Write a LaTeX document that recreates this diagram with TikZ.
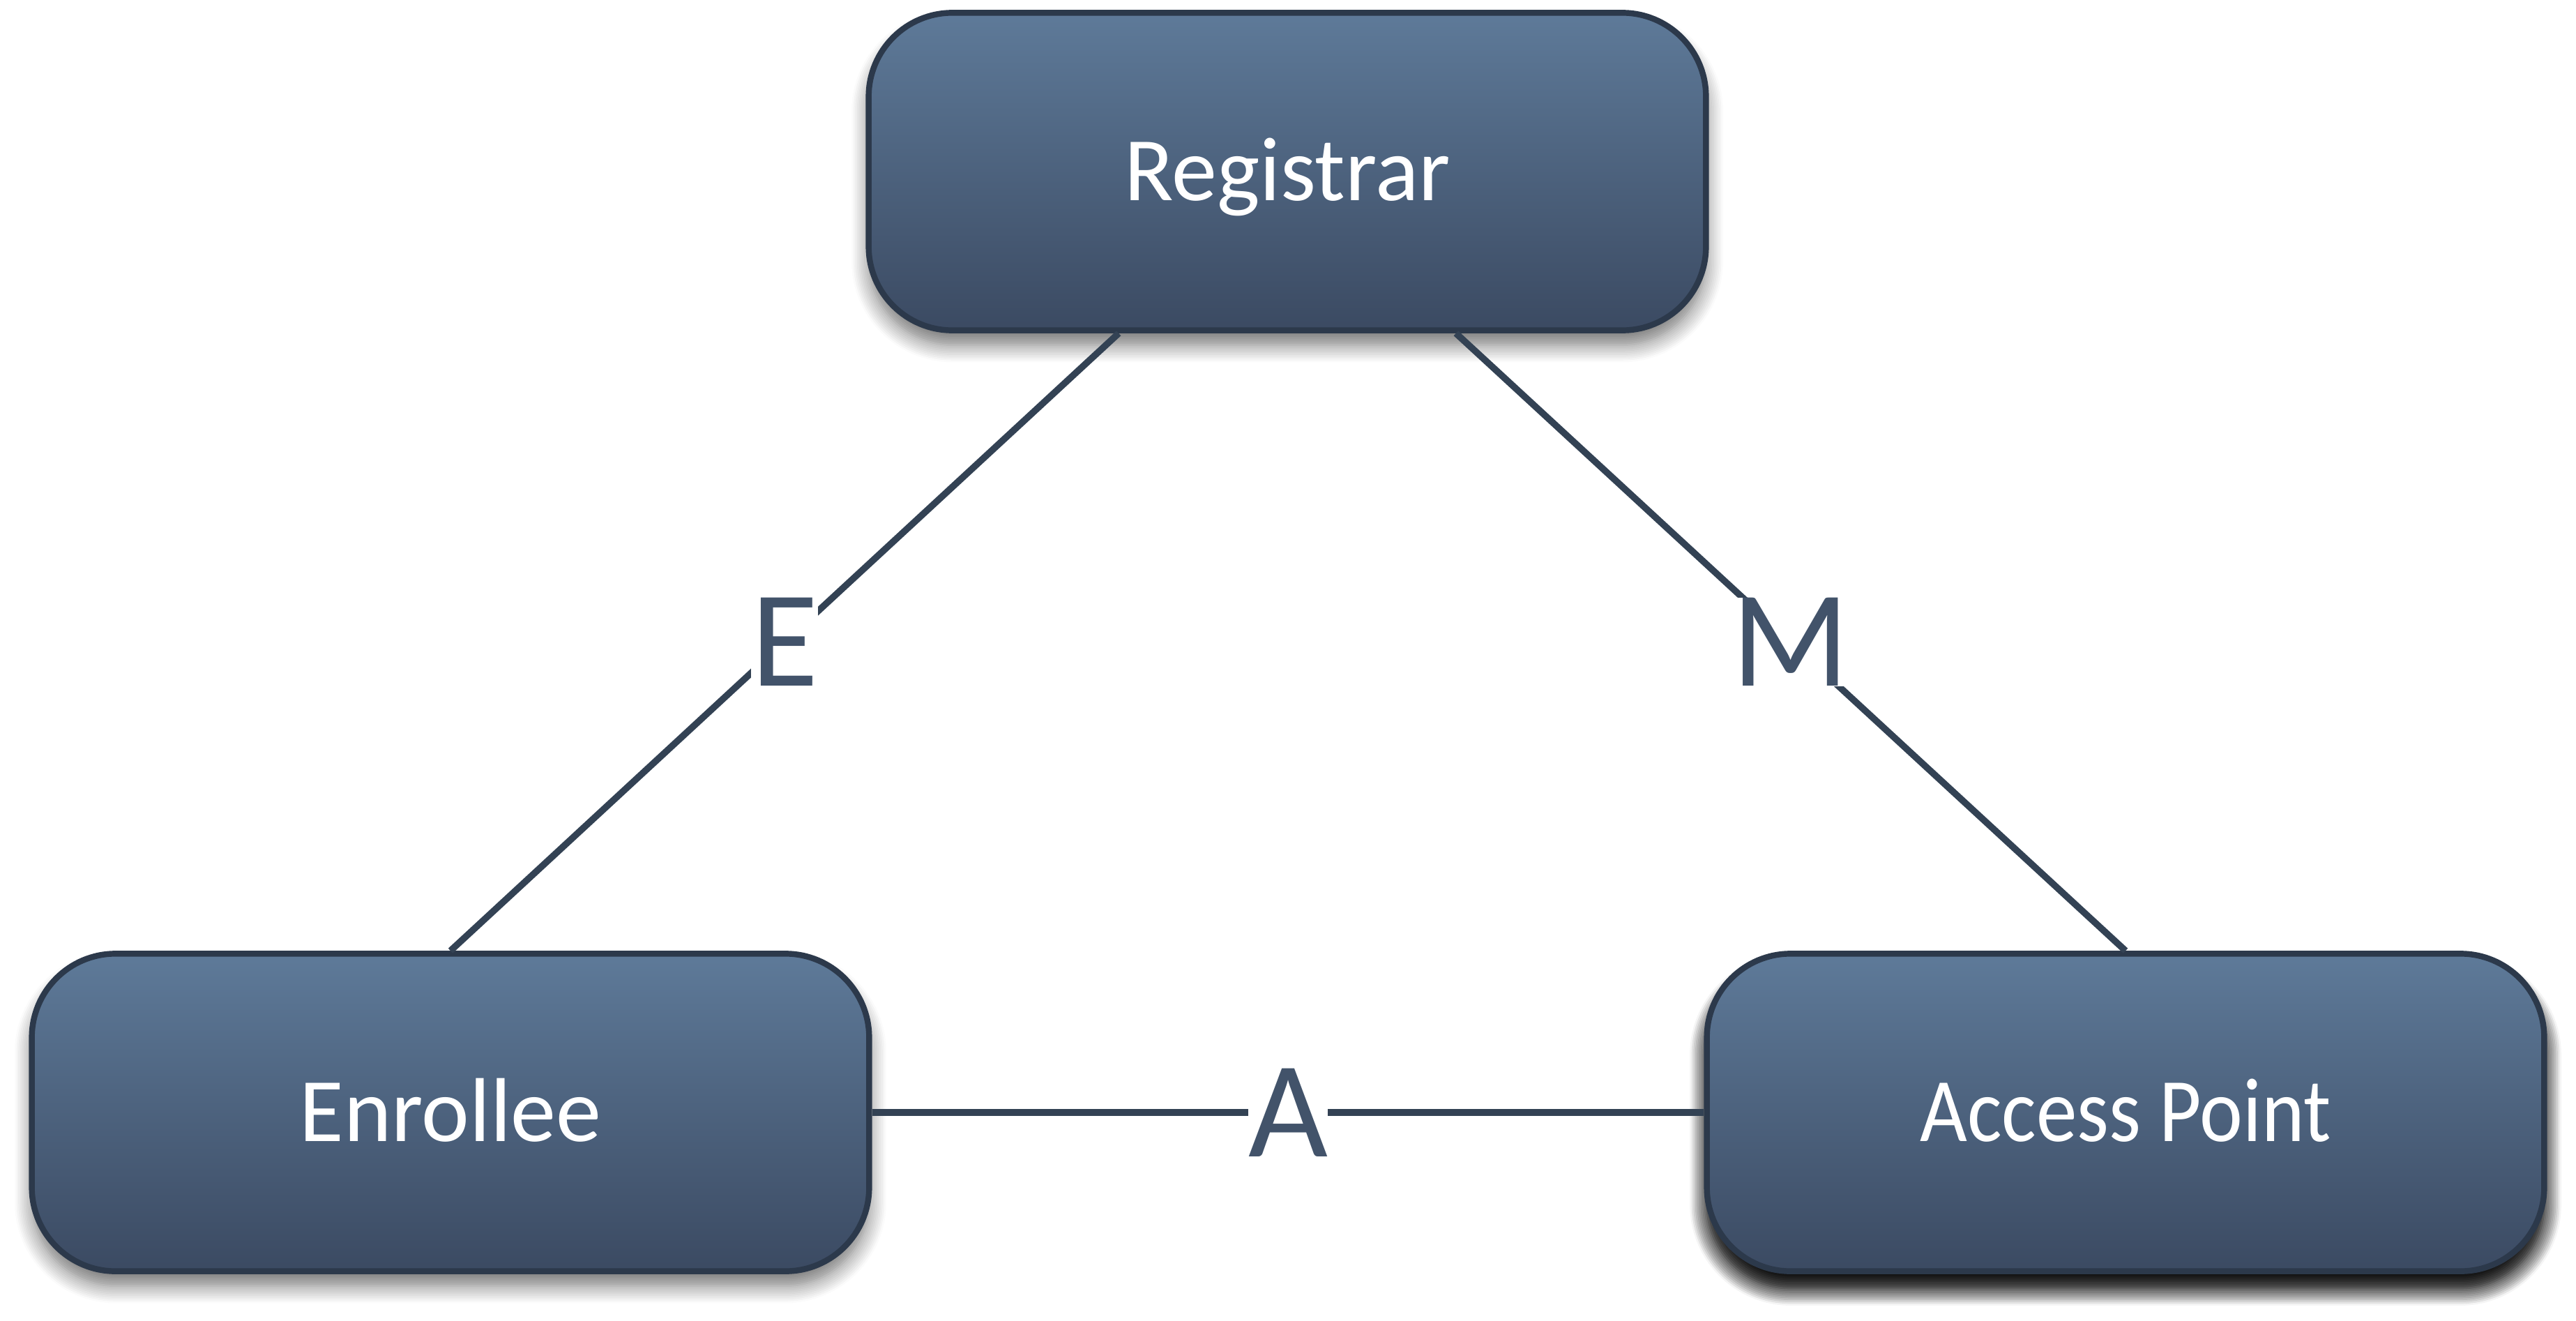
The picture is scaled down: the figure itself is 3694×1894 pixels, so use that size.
\documentclass[tikz,border=0pt]{standalone}
\usepackage{fontspec}
\setmainfont{Carlito}
\usetikzlibrary{calc,shadows,shadows.blur}
\definecolor{boxtop}{HTML}{5E7A99}
\definecolor{boxbot}{HTML}{3B4A62}
\definecolor{boxline}{HTML}{2C394B}
\definecolor{conline}{HTML}{334254}
\definecolor{labtext}{HTML}{42536A}
\tikzset{
  entity/.style={draw=boxline, line width=2.4pt, rounded corners=1.2cm,
    top color=boxtop, bottom color=boxbot,
    minimum width=12.0cm, minimum height=4.55cm, inner sep=0pt,
    text=white, font=\fontsize{37}{44}\selectfont,
    text height=23.8pt, text depth=0pt,
    blur shadow={shadow xshift=0pt, shadow yshift=-6pt, shadow blur radius=7pt, shadow blur steps=10, shadow opacity=55}},
  strongshadow/.style={blur shadow={shadow xshift=0pt, shadow yshift=-7pt, shadow blur radius=7pt, shadow blur steps=10, shadow opacity=80}},
  conn/.style={draw=conline, line width=2.7pt},
  edgelab/.style={fill=white, inner sep=0pt, text=labtext, font=\fontsize{56}{66}\selectfont}
}
\begin{document}
\begin{tikzpicture}[x=0.01cm, y=-0.01cm]
  \useasboundingbox (0,0) rectangle (3694,1894);
  \node[entity] (reg) at (1846,246) {Registrar};
  \node[entity] (enr) at (646,1595) {Enrollee};
  \node[entity, strongshadow] (ap) at (3048,1595) {\scalebox{0.9}[1]{Access Point}};
  \draw[conn] ($(reg.south west)!0.3!(reg.south east)$) -- node[edgelab] (le) {E} (enr.north);
  \draw[conn] ($(reg.south west)!0.7!(reg.south east)$) -- node[edgelab] (lm) {M} (ap.north);
  \draw[conn] (enr.east) -- node[edgelab] (la) {A} (ap.west);
\end{tikzpicture}
\end{document}
